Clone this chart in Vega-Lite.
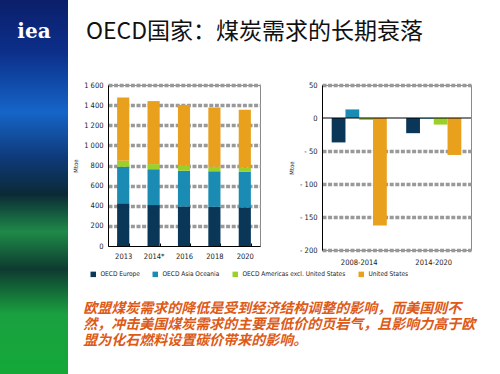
{
  "$schema": "https://vega.github.io/schema/vega-lite/v6.json",
  "padding": 0,
  "background": "white",
  "spacing": 4,
  "datasets": {
    "levels": [
      {"year": "2013", "series": "OECD Europe", "value": 424},
      {"year": "2013", "series": "OECD Asia Oceania", "value": 364},
      {"year": "2013", "series": "OECD Americas excl. United States", "value": 58},
      {"year": "2013", "series": "United States", "value": 630},
      {"year": "2014*", "series": "OECD Europe", "value": 407},
      {"year": "2014*", "series": "OECD Asia Oceania", "value": 356},
      {"year": "2014*", "series": "OECD Americas excl. United States", "value": 51},
      {"year": "2014*", "series": "United States", "value": 626},
      {"year": "2016", "series": "OECD Europe", "value": 393},
      {"year": "2016", "series": "OECD Asia Oceania", "value": 355},
      {"year": "2016", "series": "OECD Americas excl. United States", "value": 49},
      {"year": "2016", "series": "United States", "value": 605},
      {"year": "2018", "series": "OECD Europe", "value": 389},
      {"year": "2018", "series": "OECD Asia Oceania", "value": 354},
      {"year": "2018", "series": "OECD Americas excl. United States", "value": 44},
      {"year": "2018", "series": "United States", "value": 590},
      {"year": "2020", "series": "OECD Europe", "value": 384},
      {"year": "2020", "series": "OECD Asia Oceania", "value": 353},
      {"year": "2020", "series": "OECD Americas excl. United States", "value": 41},
      {"year": "2020", "series": "United States", "value": 576}
    ],
    "changes": [
      {"period": "2008-2014", "series": "OECD Europe", "value": -37},
      {"period": "2008-2014", "series": "OECD Asia Oceania", "value": 13},
      {"period": "2008-2014", "series": "OECD Americas excl. United States", "value": -3},
      {"period": "2008-2014", "series": "United States", "value": -163},
      {"period": "2014-2020", "series": "OECD Europe", "value": -23},
      {"period": "2014-2020", "series": "OECD Asia Oceania", "value": -1},
      {"period": "2014-2020", "series": "OECD Americas excl. United States", "value": -10},
      {"period": "2014-2020", "series": "United States", "value": -56}
    ]
  },
  "config": {
    "font": "'DejaVu Sans Condensed', 'Liberation Sans', sans-serif",
    "view": {"stroke": "#8a8a8a", "strokeWidth": 1},
    "axis": {
      "labelFont": "'DejaVu Sans Condensed', 'Liberation Sans', sans-serif",
      "labelFontSize": 7.5,
      "labelColor": "#222",
      "labelOverlap": false,
      "labelFlush": false,
      "titleFont": "'DejaVu Sans Condensed', 'Liberation Sans', sans-serif",
      "titleFontSize": 6,
      "titleFontWeight": "normal",
      "titleColor": "#222",
      "domainColor": "#000",
      "ticks": false
    },
    "legend": {
      "orient": "none",
      "legendX": -18,
      "legendY": 271,
      "direction": "horizontal",
      "symbolType": "square",
      "symbolSize": 30,
      "symbolStrokeWidth": 0,
      "labelFont": "'DejaVu Sans Condensed', 'Liberation Sans', sans-serif",
      "labelFontSize": 6.5,
      "labelColor": "#222",
      "columnPadding": 12
    }
  },
  "resolve": {"scale": {"color": "independent"}, "legend": {"color": "independent"}},
  "hconcat": [
    {
      "width": 68,
      "height": 374,
      "view": {
        "stroke": null,
        "fill": {
          "gradient": "linear", "x1": 0, "y1": 0, "x2": 0, "y2": 1,
          "stops": [
            {"offset": 0, "color": "#0b1f6b"},
            {"offset": 0.14, "color": "#0c2f8a"},
            {"offset": 0.3, "color": "#1565c8"},
            {"offset": 0.42, "color": "#0f3a7a"},
            {"offset": 0.52, "color": "#0b2a35"},
            {"offset": 0.62, "color": "#1e8a48"},
            {"offset": 0.72, "color": "#0e3a30"},
            {"offset": 0.84, "color": "#1aa040"},
            {"offset": 1, "color": "#14a838"}
          ]
        }
      },
      "title": {
        "text": "iea",
        "orient": "top",
        "anchor": "middle",
        "offset": -42,
        "color": "white",
        "font": "DejaVu Serif",
        "fontSize": 20,
        "fontWeight": "bold"
      },
      "data": {"values": [{"panel": "sidebar"}]},
      "mark": {
        "type": "rect",
        "strokeWidth": 0,
        "fill": {
          "gradient": "linear", "x1": 0, "y1": 0, "x2": 0, "y2": 1,
          "stops": [
            {"offset": 0, "color": "#0b1f6b"},
            {"offset": 0.14, "color": "#0c2f8a"},
            {"offset": 0.3, "color": "#1565c8"},
            {"offset": 0.42, "color": "#0f3a7a"},
            {"offset": 0.52, "color": "#0b2a35"},
            {"offset": 0.62, "color": "#1e8a48"},
            {"offset": 0.72, "color": "#0e3a30"},
            {"offset": 0.84, "color": "#1aa040"},
            {"offset": 1, "color": "#14a838"}
          ]
        }
      },
      "encoding": {}
    },
    {
      "title": {
        "text": [
          "欧盟煤炭需求的降低是受到经济结构调整的影响，而美国则不",
          "然，冲击美国煤炭需求的主要是低价的页岩气，且影响力高于欧",
          "盟为化石燃料设置碳价带来的影响。"
        ],
        "orient": "bottom",
        "anchor": "start",
        "dx": 11,
        "offset": 24,
        "font": "Noto Sans CJK SC",
        "fontSize": 14,
        "fontWeight": "bold",
        "fontStyle": "italic",
        "color": "#dd5a17",
        "lineHeight": 16
      },
      "spacing": 36,
      "vconcat": [
        {
          "width": 380,
          "height": 40,
          "view": {"stroke": null},
          "title": {
            "text": "OECD国家：煤炭需求的长期衰落",
            "orient": "top",
            "anchor": "start",
            "dx": -22,
            "offset": -44,
            "font": "Noto Sans CJK SC",
            "fontSize": 23,
            "fontWeight": "normal",
            "color": "#111"
          },
          "data": {"values": [{"panel": "headline"}]},
          "mark": {"type": "text", "text": ""},
          "encoding": {}
        },
        {
          "bounds": "flush",
          "spacing": 62,
          "hconcat": [
            {
              "width": 152,
              "height": 161,
              "data": {"name": "levels"},
              "transform": [
                {"calculate": "indexof(['OECD Europe', 'OECD Asia Oceania', 'OECD Americas excl. United States', 'United States'], datum.series)", "as": "stack_rank"}
              ],
              "mark": {"type": "bar"},
              "encoding": {
                "x": {
                  "field": "year", "type": "nominal", "sort": ["2013", "2014*", "2016", "2018", "2020"],
                  "scale": {"paddingInner": 0.6, "paddingOuter": 0.3},
                  "axis": {
                    "title": null, "labelAngle": 0, "labelPadding": 9, "domainColor": "#000",
                    "ticks": true, "tickBand": "extent", "tickSize": -3, "tickColor": "#000"
                  }
                },
                "y": {
                  "field": "value", "type": "quantitative", "stack": "zero",
                  "scale": {"domain": [0, 1600], "nice": false},
                  "axis": {
                    "title": "Mtoe", "values": [0, 200, 400, 600, 800, 1000, 1200, 1400, 1600],
                    "labelExpr": "datum.value >= 1000 ? floor(datum.value / 1000) + ' ' + format(datum.value % 1000, '03d') : '' + datum.value",
                    "labelPadding": 5, "titlePadding": 5,
                    "gridDash": [4, 1.6], "gridWidth": 3.5, "gridColor": "#999",
                    "gridOpacity": {"condition": {"test": "datum.value === 0", "value": 0}, "value": 1}
                  }
                },
                "order": {"field": "stack_rank", "type": "quantitative", "sort": "ascending"},
                "color": {
                  "field": "series", "type": "nominal",
                  "sort": ["OECD Europe", "OECD Asia Oceania", "OECD Americas excl. United States", "United States"],
                  "scale": {
                    "domain": ["OECD Europe", "OECD Asia Oceania", "OECD Americas excl. United States", "United States"],
                    "range": ["#0a3657", "#1a8cb4", "#9bcf2a", "#e9a01c"]
                  },
                  "legend": {"title": null}
                }
              }
            },
            {
              "width": 149,
              "height": 165,
              "layer": [
                {
                  "data": {"name": "changes"},
                  "mark": {"type": "bar"},
                  "encoding": {
                    "x": {
                      "field": "period", "type": "nominal", "sort": ["2008-2014", "2014-2020"],
                      "scale": {"paddingInner": 0.26, "paddingOuter": 0.13},
                      "axis": {"title": null, "labelAngle": 0, "labelPadding": 8, "domain": false}
                    },
                    "xOffset": {
                      "field": "series", "type": "nominal",
                      "sort": ["OECD Europe", "OECD Asia Oceania", "OECD Americas excl. United States", "United States"],
                      "scale": {"paddingInner": 0, "paddingOuter": 0}
                    },
                    "y": {
                      "field": "value", "type": "quantitative",
                      "scale": {"domain": [-200, 50], "nice": false},
                      "axis": {
                        "title": "Mtoe", "values": [-200, -150, -100, -50, 0, 50],
                        "labelExpr": "datum.value < 0 ? '- ' + abs(datum.value) : '' + datum.value",
                        "labelPadding": 5, "titlePadding": 5,
                        "gridDash": [4, 1.6], "gridWidth": 3.5, "gridColor": "#999",
                        "gridOpacity": {"condition": {"test": "datum.value === 0", "value": 0}, "value": 1}
                      }
                    },
                    "color": {
                      "field": "series", "type": "nominal",
                      "sort": ["OECD Europe", "OECD Asia Oceania", "OECD Americas excl. United States", "United States"],
                      "scale": {
                        "domain": ["OECD Europe", "OECD Asia Oceania", "OECD Americas excl. United States", "United States"],
                        "range": ["#0a3657", "#1a8cb4", "#9bcf2a", "#e9a01c"]
                      },
                      "legend": {"title": null}
                    }
                  }
                },
                {
                  "data": {"values": [{"ref": 0}]},
                  "mark": {"type": "rule", "color": "#000", "strokeWidth": 1},
                  "encoding": {
                    "y": {
                      "field": "ref", "type": "quantitative",
                      "axis": {
                        "title": "Mtoe", "values": [-200, -150, -100, -50, 0, 50],
                        "labelExpr": "datum.value < 0 ? '- ' + abs(datum.value) : '' + datum.value",
                        "labelPadding": 5, "titlePadding": 5,
                        "gridDash": [4, 1.6], "gridWidth": 3.5, "gridColor": "#999",
                        "gridOpacity": {"condition": {"test": "datum.value === 0", "value": 0}, "value": 1}
                      }
                    }
                  }
                }
              ]
            }
          ]
        }
      ]
    }
  ]
}
